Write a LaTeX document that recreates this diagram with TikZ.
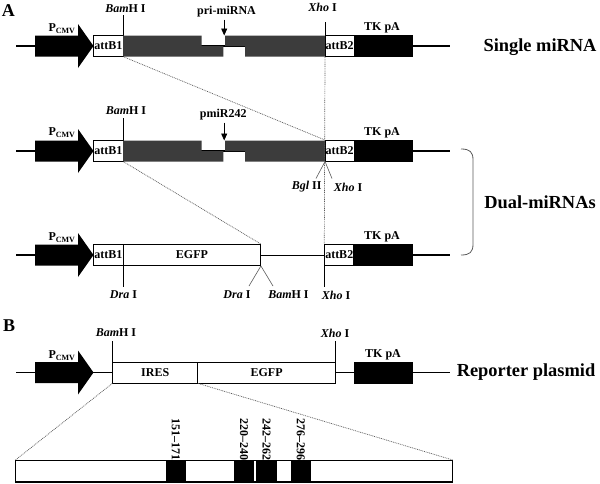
\documentclass[tikz,border=0pt]{standalone}
\usepackage{fontspec}
\setmainfont{Liberation Serif}
\usetikzlibrary{arrows.meta}
\definecolor{insert}{RGB}{60,60,60}
\definecolor{dotc}{RGB}{90,90,90}
\begin{document}
\begin{tikzpicture}[x=1pt,y=-1pt,
  lbl/.style={font=\bfseries\fontsize{12}{12}\selectfont, inner sep=0pt},
  big/.style={font=\bfseries\fontsize{18.4}{20}\selectfont, inner sep=0pt},
  panel/.style={font=\bfseries\fontsize{18}{20}\selectfont, inner sep=0pt},
  backbone/.style={line width=1.3pt},
  wbox/.style={draw, line width=0.9pt, fill=white, minimum height=21pt, inner sep=0pt, anchor=west, font=\bfseries\fontsize{12}{12}\selectfont},
  bbox/.style={draw, fill=black, line width=0.9pt, minimum height=21pt, inner sep=0pt, anchor=west},
  blk/.style={fill=black, draw=none, minimum height=21pt, inner sep=0pt, anchor=west},
  tick/.style={line width=0.9pt},
  slant/.style={line width=0.6pt, dotc},
  dots/.style={dash pattern=on 0.9pt off 0.9pt, line width=0.7pt, dotc},
  ptr/.style={line width=0.9pt, -{Triangle[length=7pt,width=6pt]}},
  promoter/.pic={\fill (35,-10.5) -- (78,-10.5) -- (78,-22) -- (93.5,0) -- (78,22) -- (78,10.5) -- (35,10.5) -- cycle;},
  vlab/.style={font=\bfseries\fontsize{12}{12}\selectfont, inner sep=0pt, rotate=-90, anchor=east}
]
\useasboundingbox (0,0) rectangle (600,483);

% panel labels
\node[panel] (pA) at (8.3,11) {A};
\node[panel] (pB) at (9.2,326) {B};

% ---------------- Row 1: single miRNA (yc = 46)
\coordinate (r1L) at (16,46); \coordinate (r1R) at (450,46);
\draw[backbone] (r1L) -- (r1R);
\pic at (0,46) {promoter};
\node[lbl] (pc1) at (62,29) {P\textsubscript{CMV}};
\node[wbox, minimum width=30pt] (a1) at (93,46) {attB1};
\fill[insert] (123,35.5) -- (201.7,35.5) -- (201.7,46) -- (223.3,46) -- (223.3,56.5) -- (123,56.5) -- cycle;
\fill[insert] (225,35.5) -- (325,35.5) -- (325,56.5) -- (245,56.5) -- (245,46) -- (225,46) -- cycle;
\node[wbox, minimum width=28.5pt] (b1) at (325,46) {attB2};
\node[bbox, minimum width=58.8pt] (t1) at (353.5,46) {};
\node[lbl] (tk1) at (382,28) {TK pA};
\node[lbl] (bam1) at (125.5,9) {\textit{Bam}H I};
\draw[tick] (a1.north east) -- ++(0,-20.5);
\node[lbl] (xho1) at (322.5,7.5) {\textit{Xho} I};
\draw[tick] (b1.north west) -- ++(0,-13.5);
\node[lbl] (pri) at (226.5,12) {pri-miRNA};
\coordinate (g1) at (224.2,35.5);
\draw[ptr] (pri.south -| g1) ++(0,2) -- (g1);
\node[big] (single) at (540,47) {Single miRNA};

% ---------------- Row 2: pmiR242 (yc = 151)
\coordinate (r2L) at (16,151); \coordinate (r2R) at (450,151);
\draw[backbone] (r2L) -- (r2R);
\pic at (0,151) {promoter};
\node[lbl] (pc2) at (62,133) {P\textsubscript{CMV}};
\node[wbox, minimum width=30pt] (a2) at (93,151) {attB1};
\fill[insert] (123,140.5) -- (201.7,140.5) -- (201.7,151) -- (223.3,151) -- (223.3,161.5) -- (123,161.5) -- cycle;
\fill[insert] (225,140.5) -- (325,140.5) -- (325,161.5) -- (245,161.5) -- (245,151) -- (225,151) -- cycle;
\node[wbox, minimum width=28.5pt] (b2) at (325,151) {attB2};
\node[bbox, minimum width=58.8pt] (t2) at (353.5,151) {};
\node[lbl] (tk2) at (382,132.5) {TK pA};
\node[lbl] (bam2) at (126,111) {\textit{Bam}H I};
\draw[tick] (a2.north east) -- ++(0,-22.5);
\node[lbl] (pmi) at (223.3,115) {pmiR242};
\coordinate (g2) at (224.2,140.5);
\draw[ptr] (pmi.south -| g2) ++(0,2) -- (g2);
\coordinate (s2) at (325,161.5);
\node[lbl] (bgl) at (306.7,187) {\textit{Bgl} II};
\node[lbl] (xho2) at (348,187) {\textit{Xho} I};
\draw[slant] (s2) -- (316,178.5);
\draw[slant] (s2) -- (332,178.5);

% ---------------- Row 3: EGFP (yc = 255)
\coordinate (r3L) at (16,255); \coordinate (r3R) at (450,255);
\draw[backbone] (r3L) -- (93,255);
\draw[line width=0.9pt] (260,255) -- (324,255);
\draw[backbone] (412,255) -- (r3R);
\pic at (0,255) {promoter};
\node[lbl] (pc3) at (62,237.5) {P\textsubscript{CMV}};
\node[wbox, minimum width=30pt] (a3) at (93,255) {attB1};
\node[wbox, minimum width=137pt] (e3) at (123,255) {EGFP};
\node[wbox, minimum width=29pt] (b3) at (324.3,255) {attB2};
\node[bbox, minimum width=59pt] (t3) at (353.3,255) {};
\node[lbl] (tk3) at (382,237) {TK pA};
\draw[tick] (a3.south east) -- ++(0,21);
\node[lbl] (dra1) at (123.5,295) {\textit{Dra} I};
\node[lbl] (dra2) at (237,295) {\textit{Dra} I};
\node[lbl] (bam3) at (288.5,295) {\textit{Bam}H I};
\draw[slant] (e3.south east) -- (249,286);
\draw[slant] (e3.south east) -- (273,286);
\draw[tick] (b3.south west) -- ++(0,21);
\node[lbl] (xho3) at (336,295) {\textit{Xho} I};

% bracket
\draw[line width=0.8pt, dotc] (461,149) .. controls (470,149) and (473,152) .. (473,160) -- (473,244) .. controls (473,252) and (470,255) .. (461,255);
\node[big] (dual) at (540,202) {Dual-miRNAs};

% dotted guides
\draw[dots] (a1.south east) -- (b2.north west);
\draw[dots] (b1.south west) -- (b3.north west);
\draw[dots] (a2.south east) -- (e3.north east);

% ---------------- Row 4: reporter (yc = 372.5)
\coordinate (r4L) at (16,372.5); \coordinate (r4R) at (450,372.5);
\draw[backbone] (r4L) -- (112.3,372.5);
\draw[backbone] (335,372.5) -- (r4R);
\pic at (0,372.5) {promoter};
\node[lbl] (pc4) at (62,356) {P\textsubscript{CMV}};
\node[wbox, minimum width=85pt] (ires) at (112.3,372.5) {IRES};
\node[wbox, minimum width=137.7pt] (e4) at (197.3,372.5) {EGFP};
\node[bbox, minimum width=58.3pt] (t4) at (354,372.5) {};
\node[lbl] (tk4) at (383,355) {TK pA};
\node[lbl] (bam4) at (116,333) {\textit{Bam}H I};
\draw[tick] (ires.north west) -- ++(0,-20.5);
\node[lbl] (xho4) at (335,333.5) {\textit{Xho} I};
\draw[tick] (e4.north east) -- ++(0,-20.5);
\node[big] (rep) at (526,372) {Reporter plasmid};

% ---------------- IRES expansion
\node[wbox, minimum width=436.6pt] (bar) at (15.4,471) {};
\node[blk, minimum width=20.4pt] (k1) at (165.4,471) {};
\node[blk, minimum width=20.7pt] (k2) at (233.5,471) {};
\node[blk, minimum width=21.2pt] (k3) at (255.8,471) {};
\node[blk, minimum width=20.4pt] (k4) at (290.4,471) {};
\draw[line width=0.9pt] (bar.north west) rectangle (bar.south east);
\node[vlab] (l1) at (k1.north) {151--171};
\node[vlab] (l2) at (k2.north) {220--240};
\node[vlab] (l3) at (k3.north) {242--262};
\node[vlab] (l4) at (k4.north) {276--296};
\draw[dots] (ires.south west) -- (bar.north west);
\draw[dots] (ires.south east) -- (bar.north east);
\end{tikzpicture}
\end{document}
